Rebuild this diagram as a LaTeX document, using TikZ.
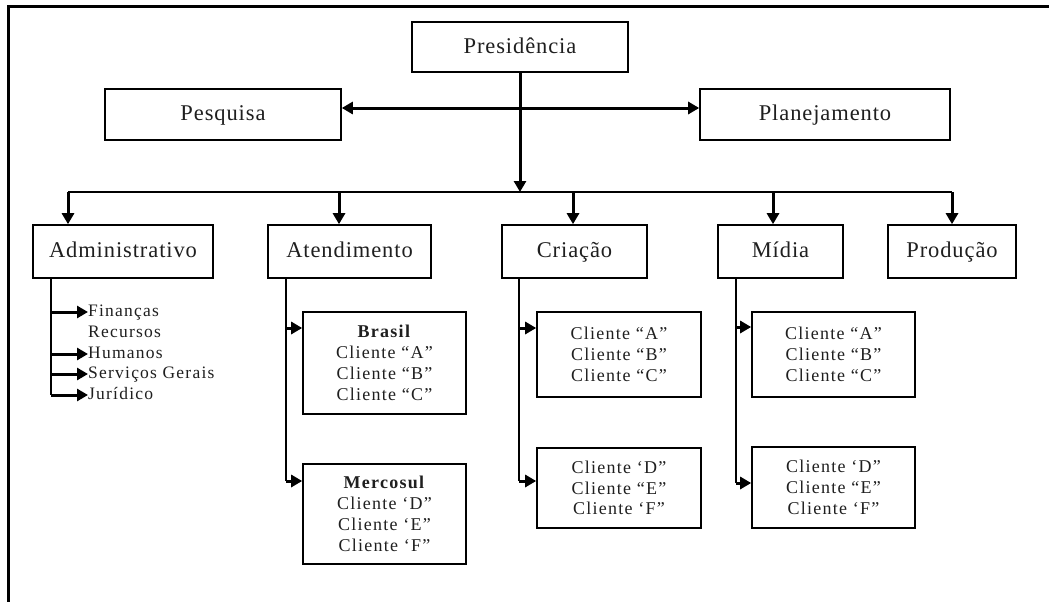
\documentclass[tikz,border=0pt]{standalone}
\usepackage{fontspec}
\setmainfont{Liberation Serif}
\newfontfamily\widefont[LetterSpace=7]{Liberation Serif}
\newfontfamily\bigfont[LetterSpace=4]{Liberation Serif}
\usetikzlibrary{arrows.meta}
\begin{document}
\begin{tikzpicture}[x=1pt,y=-1pt,
  box/.style={draw,line width=1.6pt,inner sep=0pt,align=center,text=black!88},
  big/.style={font=\bigfont\fontsize{22.5}{26}\selectfont,text height=17pt,text depth=5pt},
  small/.style={font=\widefont\fontsize{18}{20.8}\selectfont},
  lst/.style={inner sep=0pt,font=\widefont\fontsize{17.5}{20.8}\selectfont,text=black!88,text height=12pt,text depth=4pt},
  tip/.tip={Triangle[length=11pt,width=12pt]},
  arr/.style={line width=3pt,-tip},
  trunk/.style={line width=2pt},
  frame/.style={line width=3pt}]
\useasboundingbox (0,0) rectangle (1049,602);
% outer frame
\coordinate (fb) at (8,602);
\coordinate (fc) at (8,7);
\coordinate (fr) at (1049,7);
\draw[frame] (fb) -- (fc) -- (fr);

% top level
\node[box,big,minimum width=216pt,minimum height=50pt] (pres) at (520,47) {Presidência};
\node[box,big,minimum width=236pt,minimum height=51pt] (pesq) at (223,114.5) {Pesquisa};
\node[box,big,minimum width=250pt,minimum height=51pt] (plan) at (825,114.5) {Planejamento};

% second level
\node[box,big,minimum width=180pt,minimum height=53pt] (adm) at (123,251.5) {Administrativo};
\node[box,big,minimum width=163pt,minimum height=53pt] (ate) at (349.5,251.5) {Atendimento};
\node[box,big,minimum width=145pt,minimum height=53pt] (cri) at (574.5,251.5) {Criação};
\node[box,big,minimum width=125pt,minimum height=53pt] (mid) at (780.5,251.5) {Mídia};
\node[box,big,minimum width=128pt,minimum height=53pt] (pro) at (952,251.5) {Produção};

% third level boxes
\node[box,small,minimum width=163pt,minimum height=102pt] (bra) at (384.5,363) {\textbf{Brasil}\\Cliente “A”\\Cliente “B”\\Cliente “C”};
\node[box,small,minimum width=163pt,minimum height=100pt] (mer) at (384.5,514) {\textbf{Mercosul}\\Cliente ‘D”\\Cliente ‘E”\\Cliente ‘F”};
\node[box,small,minimum width=164pt,minimum height=85pt] (criA) at (619,354.5) {Cliente “A”\\Cliente “B”\\Cliente “C”};
\node[box,small,minimum width=164pt,minimum height=80pt] (criD) at (619,488) {Cliente ‘D”\\Cliente “E”\\Cliente ‘F”};
\node[box,small,minimum width=163pt,minimum height=85pt] (midA) at (833.5,354.5) {Cliente “A”\\Cliente “B”\\Cliente “C”};
\node[box,small,minimum width=163pt,minimum height=81pt] (midD) at (833.5,487.5) {Cliente ‘D”\\Cliente “E”\\Cliente ‘F”};

% administrative list
\node[lst,anchor=west] (fin) at (88,312) {Finanças};
\node[lst,anchor=west] (rec) at (88,333) {Recursos};
\node[lst,anchor=west] (hum) at (88,354) {Humanos};
\node[lst,anchor=west] (ser) at (88,374) {Serviços Gerais};
\node[lst,anchor=west] (jur) at (88,395) {Jurídico};

% Presidência connections
\coordinate (busL) at (68,192);
\coordinate (busR) at (952,192);
\coordinate (bAte) at (339,192);
\coordinate (bCri) at (573,192);
\coordinate (bMid) at (773,192);
\draw[arr] (pres.south) -- (pres.south |- busL);
\draw[line width=3pt,tip-tip] ([yshift=6.5pt]pesq.east) -- ([yshift=6.5pt]plan.west);
\draw[trunk] (busL) -- (busR);
\draw[arr] (busL) -- (busL |- adm.north);
\draw[arr] (bAte) -- (bAte |- ate.north);
\draw[arr] (bCri) -- (bCri |- cri.north);
\draw[arr] (bMid) -- (bMid |- mid.north);
\draw[arr] (busR) -- (busR |- pro.north);

% Administrativo list
\coordinate (admT) at (51,278);
\draw[trunk] (admT) -- (admT |- jur.west);
\draw[arr] (admT |- fin.west) -- (fin.west);
\draw[arr] (admT |- hum.west) -- (hum.west);
\draw[arr] (admT |- ser.west) -- (ser.west);
\draw[arr] (admT |- jur.west) -- (jur.west);

% Atendimento
\coordinate (ateT) at (286,278);
\coordinate (ateA) at (286,328);
\coordinate (ateB) at (286,481);
\draw[trunk] (ateT) -- (ateB);
\draw[arr] (ateA) -- (ateA -| bra.west);
\draw[arr] (ateB) -- (ateB -| mer.west);

% Criação
\coordinate (criT) at (519,278);
\coordinate (criP) at (519,328);
\coordinate (criQ) at (519,481);
\draw[trunk] (criT) -- (criQ);
\draw[arr] (criP) -- (criP -| criA.west);
\draw[arr] (criQ) -- (criQ -| criD.west);

% Mídia
\coordinate (midT) at (736,278);
\coordinate (midP) at (736,327);
\coordinate (midQ) at (736,483);
\draw[trunk] (midT) -- (midQ);
\draw[arr] (midP) -- (midP -| midA.west);
\draw[arr] (midQ) -- (midQ -| midD.west);
\end{tikzpicture}
\end{document}
